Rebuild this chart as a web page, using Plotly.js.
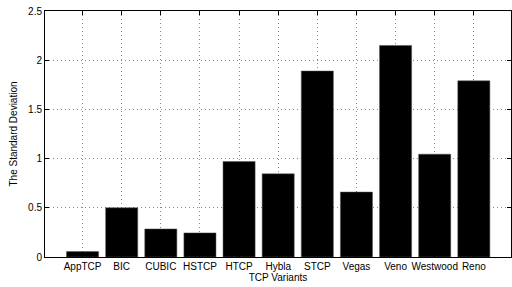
<!DOCTYPE html>
<html>
<head>
<meta charset="utf-8">
<script src="https://cdn.plot.ly/plotly-3.0.1.min.js"></script>
<style>html,body{margin:0;padding:0;background:#fff;}#chart{width:512px;height:287px;}</style>
</head>
<body>
<div id="chart"></div>
<script>
const categories = ["AppTCP","BIC","CUBIC","HSTCP","HTCP","Hybla","STCP","Vegas","Veno","Westwood","Reno"];
const stdDev = [0.055, 0.5, 0.285, 0.245, 0.97, 0.845, 1.89, 0.66, 2.15, 1.045, 1.79];
const yTicks = [0, 0.5, 1, 1.5, 2, 2.5];
const yTickText = ["0","0.5","1","1.5","2","2.5"];

const trace = {
  type: "bar",
  x: categories,
  y: stdDev,
  width: 0.82,
  marker: {color: "#000000", line: {color: "#555555", width: 0.5}},
  hoverinfo: "skip"
};

const fontFam = "Liberation Sans, Arial, Helvetica, sans-serif";
const layout = {
  width: 512, height: 287,
  margin: {l: 45, r: 1, t: 11, b: 30, pad: 0},
  paper_bgcolor: "#fff", plot_bgcolor: "#fff",
  showlegend: false,
  font: {family: fontFam, size: 10, color: "#000"},
  xaxis: {
    type: "category",
    range: [-0.96, 10.95],
    showline: true, linecolor: "#000", linewidth: 1, mirror: "ticks",
    ticks: "inside", ticklen: 4, tickcolor: "#000",
    showgrid: true, gridcolor: "#8a8a8a", griddash: "1px,3px", gridwidth: 1,
    tickfont: {family: fontFam, size: 10, color: "#000"},
    title: {text: "TCP Variants", font: {family: fontFam, size: 10, color: "#000"}, standoff: 2},
    zeroline: false, fixedrange: true
  },
  yaxis: {
    range: [0, 2.5],
    tickvals: yTicks, ticktext: yTickText,
    showline: true, linecolor: "#000", linewidth: 1, mirror: "ticks",
    ticks: "inside", ticklen: 4, tickcolor: "#000",
    showgrid: true, gridcolor: "#8a8a8a", griddash: "1px,3px", gridwidth: 1,
    tickfont: {family: fontFam, size: 10, color: "#000"},
    title: {text: "The Standard Deviation", font: {family: fontFam, size: 10, color: "#000"}, standoff: 8},
    zeroline: false, fixedrange: true
  }
};

Plotly.newPlot("chart", [trace], layout, {displayModeBar: false, staticPlot: true});
</script>
</body>
</html>
